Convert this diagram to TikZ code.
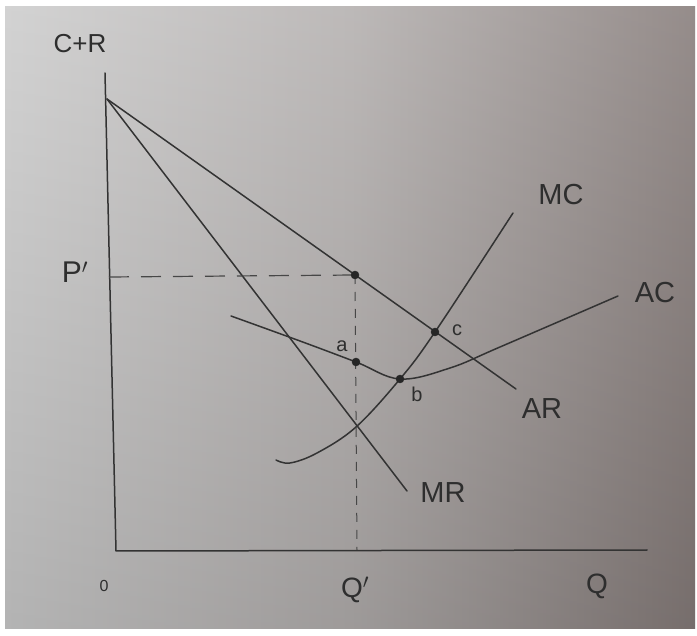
\documentclass[tikz,border=0pt]{standalone}
\usepackage{fontspec}
\setmainfont{Liberation Sans}
\definecolor{paperL}{HTML}{CDCDCD}
\definecolor{paperM}{HTML}{B4B0AF}
\definecolor{paperR}{HTML}{877D7B}
\begin{document}
\begin{tikzpicture}[x=1pt,y=-1pt,
  ink/.style={draw=black!80,line width=1.5pt,line cap=round,line join=round},
  thinink/.style={draw=black!72,line width=1.2pt},
  dot/.style={circle,fill=black!85,draw=black!85,inner sep=0pt,minimum size=8pt},
  lbl/.style={text=black!82,font=\fontsize{29}{31}\selectfont,inner sep=1pt},
  small/.style={text=black!82,font=\fontsize{20}{22}\selectfont,inner sep=1pt}]
\useasboundingbox (0,0) rectangle (697,636);
\fill[white] (0,0) rectangle (697,636);
\shade[left color=paperL,right color=paperR,middle color=paperM] (5,7) rectangle (695,628);
\shade[top color=white,bottom color=black,opacity=0.12] (5,7) rectangle (695,628);
% axes
\coordinate (ytop) at (105,73);
\coordinate (orig) at (116,551);
\coordinate (xend) at (647,550);
\draw[ink] (ytop) -- (orig) -- (xend);
% demand lines
\coordinate (A) at (107,99);
\coordinate (ARend) at (516,389);
\coordinate (MRend) at (407,491);
\draw[ink] (A) -- (ARend);
\draw[ink] (A) -- (MRend);
% points
\coordinate (Pp) at (355,275);
\coordinate (Lp) at (109,277);
\coordinate (Qb) at (357,550);
\draw[thinink,dash pattern=on 20pt off 12pt] (Lp) -- (Pp);
\draw[thinink,line width=1pt,dash pattern=on 9pt off 8pt] (Pp) -- (Qb);
% AC curve
\draw[ink] plot[smooth,tension=0.6] coordinates {(231,316) (300,341) (356,362) (400,379) (450,368) (500,347) (618,296)};
% MC curve
\draw[ink] plot[smooth,tension=0.6] coordinates {(276,460) (290,463) (317,453) (356,427) (400,379) (435,332) (513,213)};
% dots
\node[dot] (pdot) at (Pp) {};
\node[dot] (adot) at (356,362) {};
\node[dot] (bdot) at (400,379) {};
\node[dot] (cdot) at (435,332) {};
% labels
\node[small] (la) at (342,346) {a};
\node[small] (lb) at (417,394) {b};
\node[small] (lc) at (457,330) {c};
\node[lbl] (lMC) at (561,195) {MC};
\node[lbl] (lAC) at (655,293) {AC};
\node[lbl] (lAR) at (542,409) {AR};
\node[lbl] (lMR) at (443,493) {MR};
\node[text=black!82,font=\fontsize{26}{28}\selectfont] (lCR) at (80,44) {C+R};
\node[text=black!82,font=\fontsize{30}{32}\selectfont] (lP) at (75,272) {P$'$};
\node[text=black!82,font=\fontsize{16}{18}\selectfont] (l0) at (104,586) {0};
\node[text=black!82,font=\fontsize{28}{30}\selectfont] (lQp) at (355,590) {Q$'$};
\node[text=black!82,font=\fontsize{28}{30}\selectfont] (lQ) at (597,586) {Q};
\end{tikzpicture}
\end{document}
